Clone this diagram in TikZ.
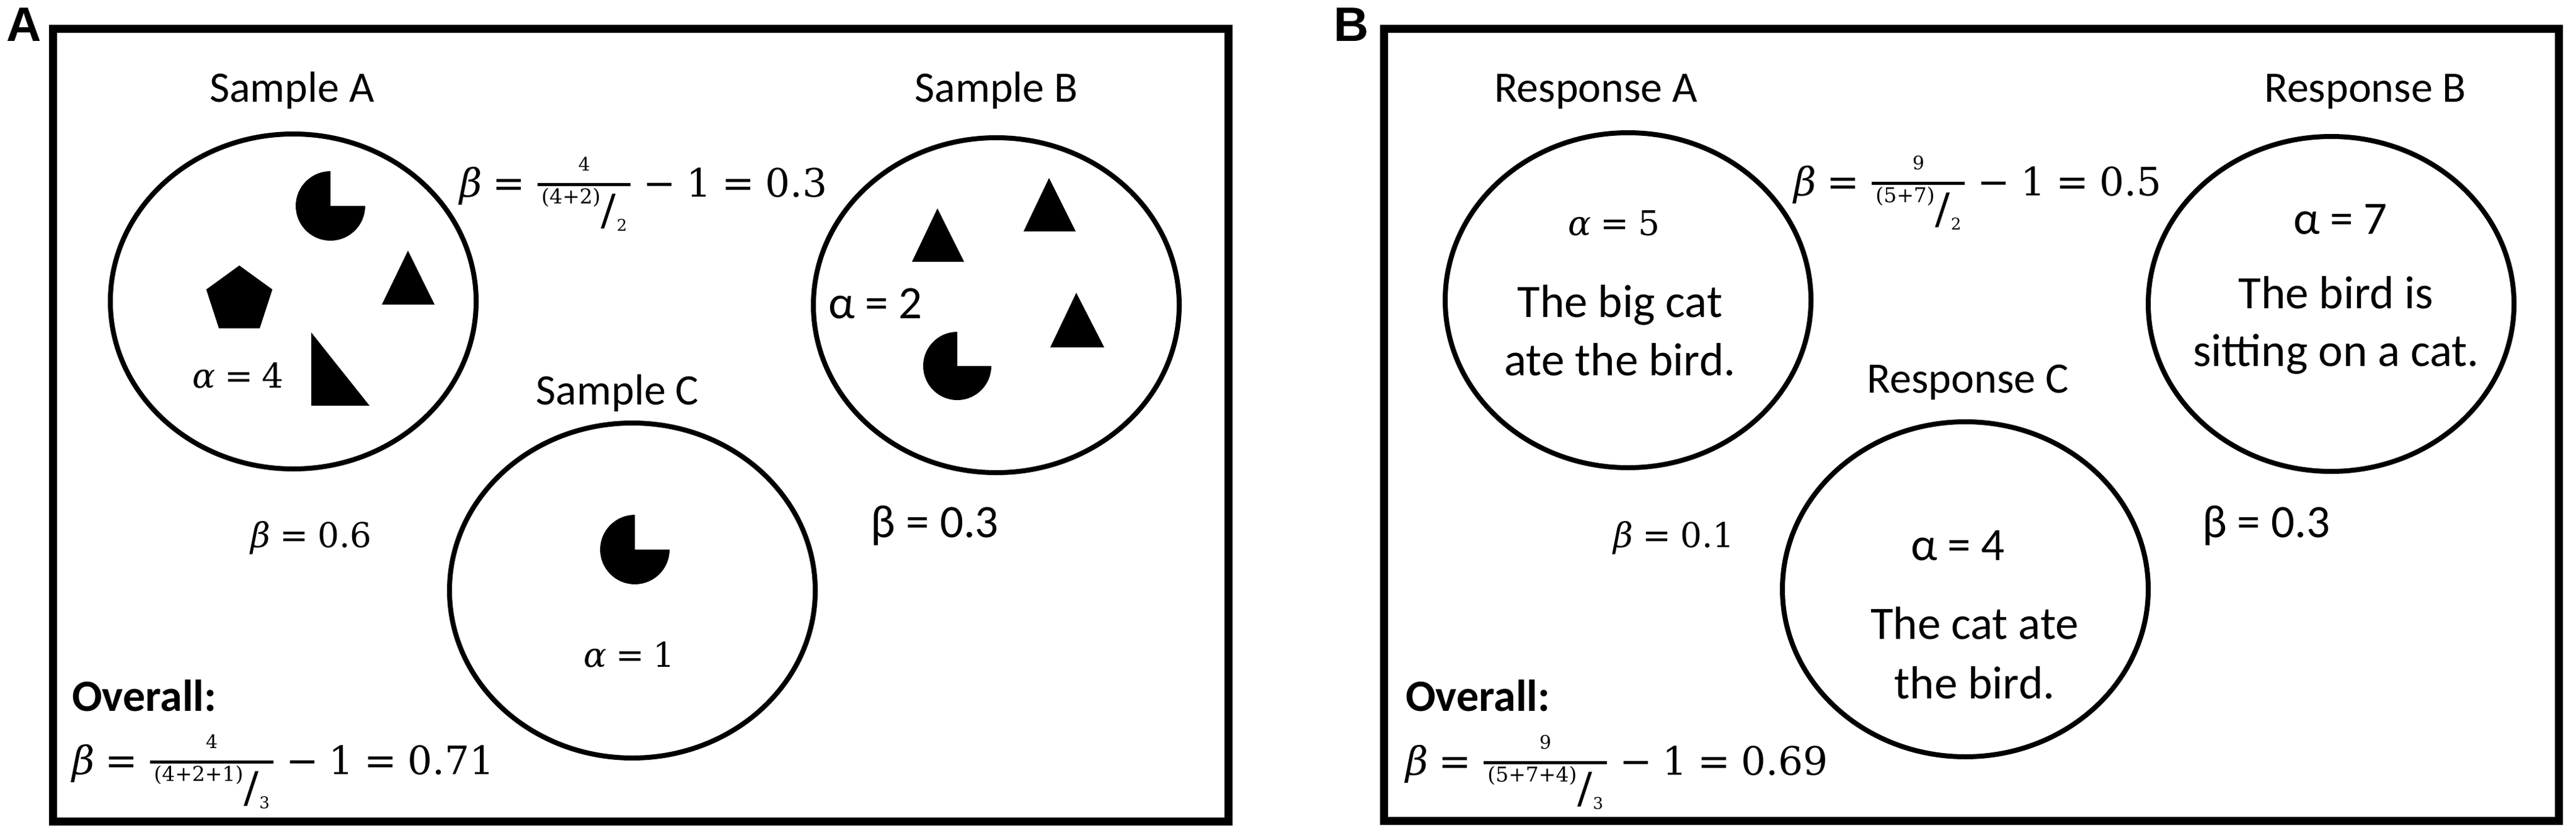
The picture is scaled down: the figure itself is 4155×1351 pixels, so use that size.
\documentclass[tikz,border=0pt]{standalone}
\usepackage{graphicx}
\usepackage{fontspec}
\setmainfont{Carlito}
\newfontfamily\labelfont{Liberation Sans}
\newfontfamily\mathfont{DejaVu Serif}
\usetikzlibrary{shapes.geometric}
\newcommand\Bt{{\itshape β}}
\newcommand\Al{{\itshape α}}
\newcommand\Eq{\kern0.27em=\kern0.27em}
\newcommand\Mn{\kern0.27em−\kern0.27em}
% skewed fraction: #1 numerator, #2 bracketed group, #3 divisor
\newcommand\skfrac[3]{%
  \setbox0=\hbox{\fontsize{30}{36}\selectfont #1}%
  \setbox2=\hbox{{\fontsize{33}{40}\selectfont #2}\kern1pt\raisebox{-34pt}{\resizebox*{24pt}{56pt}{/}}\kern1pt{\fontsize{26}{30}\selectfont\raisebox{-44pt}{#3}}}%
  \dimen0=\wd2 \advance\dimen0 by 12pt
  \kern3pt
  \rlap{\rule[17.5pt]{\dimen0}{5pt}}%
  \rlap{\raisebox{42pt}{\hbox to\dimen0{\hss\box0\hss}}}%
  \raisebox{-11pt}{\hbox to\dimen0{\hss\box2\hss}}%
  \kern3pt}
\tikzset{
  ttl/.style={inner sep=0pt, anchor=base, font=\fontsize{70}{84}\selectfont},
  txt/.style={inner sep=0pt, anchor=base, font=\fontsize{75}{90}\selectfont},
  mth/.style={inner sep=0pt, anchor=base, font=\mathfont\fontsize{55}{66}\selectfont},
  fml/.style={inner sep=0pt, anchor=base west, font=\mathfont\fontsize{63}{76}\selectfont},
  ovr/.style={inner sep=0pt, anchor=base west, font=\bfseries\fontsize{72}{86}\selectfont},
  lbl/.style={inner sep=0pt, anchor=base, font=\labelfont\bfseries\fontsize{78}{90}\selectfont},
  ring/.style={ellipse, draw, line width=8pt, minimum width=590pt, minimum height=540pt, inner sep=0pt},
  panelframe/.style={line width=13pt},
  blob/.style={fill=black}
}
\begin{document}
\begin{tikzpicture}[x=1pt,y=-1pt]
\useasboundingbox (0,0) rectangle (4155,1351);

% ---------------- Panel A ----------------
\draw[panelframe] (85,47) rectangle (1981,1324);
\node[lbl] (labA) at (39,67) {A};

\node[ring] (cA) at (473,486) {};
\node[ring] (cB) at (1607,492) {};
\node[ring] (cC) at (1020,952) {};

\node[ttl] (tSA) at (471,165) {Sample A};
\node[ttl] (tSB) at (1607,165) {Sample B};
\node[ttl] (tSC) at (996,652) {Sample C};

\node[mth] (aA) at (384,625) {\Al\Eq 4};
\node[txt] (aB) at (1412,513) {α = 2};
\node[mth] (aC) at (1015,1075) {\Al\Eq 1};

\node[mth] (bAC) at (502,882) {\Bt\Eq 0.6};
\node[txt] (bBC) at (1508,866) {β = 0.3};
\node[fml] (bAB) at (741,317) {\Bt\Eq\skfrac{4}{(4+2)}{2}\Mn 1\Eq 0.3};

\node[ovr] (ovA) at (116,1146) {Overall:};
\node[fml] (ovfA) at (116,1248) {\Bt\Eq\skfrac{4}{(4+2+1)}{3}\Mn 1\Eq 0.71};

% shapes in Sample A
\fill[blob] (533,332) -- ++(0,-56) arc[start angle=270, end angle=0, radius=56] -- cycle;
\fill[blob] (386,428) -- (332.7,466.7) -- (353.1,529.3) -- (418.9,529.3) -- (439.3,466.7) -- cycle;
\fill[blob] (616,491) -- (701,491) -- (658,404) -- cycle;
\fill[blob] (502,536) -- (502,654) -- (596,654) -- cycle;

% shapes in Sample B
\fill[blob] (1471,422) -- (1555,422) -- (1512,336) -- cycle;
\fill[blob] (1651,373) -- (1735,373) -- (1692,287) -- cycle;
\fill[blob] (1694,560) -- (1781,560) -- (1736,472) -- cycle;
\fill[blob] (1544,590) -- ++(0,-55) arc[start angle=270, end angle=0, radius=55] -- cycle;

% shape in Sample C
\fill[blob] (1024,886) -- ++(0,-56) arc[start angle=270, end angle=0, radius=56] -- cycle;

% ---------------- Panel B ----------------
\draw[panelframe] (2232,47) rectangle (4127,1323);
\node[lbl] (labB) at (2180,67) {B};

\node[ring] (rA) at (2626,484) {};
\node[ring] (rB) at (3760,490) {};
\node[ring] (rC) at (3170,950) {};

\node[ttl] (tRA) at (2574,165) {Response A};
\node[ttl] (tRB) at (3815,165) {Response B};
\node[ttl] (tRC) at (3174,633) {Response C};

\node[mth] (a5) at (2603,379) {\Al\Eq 5};
\node[txt] (sA1) at (2613,511) {The big cat};
\node[txt] (sA2) at (2613,605) {ate the bird.};

\node[txt] (a7) at (3775,377) {α = 7};
\node[txt] (sB1) at (3768,497) {The bird is};
\node[txt] (sB2) at (3768,590) {sitting on a cat.};

\node[txt] (a4) at (3158,903) {α = 4};
\node[txt] (sC1) at (3185,1030) {The cat ate};
\node[txt] (sC2) at (3185,1126) {the bird.};

\node[mth] (b01) at (2700,882) {\Bt\Eq 0.1};
\node[txt] (b03) at (3655,866) {β = 0.3};
\node[fml] (b05) at (2893,315) {\Bt\Eq\skfrac{9}{(5+7)}{2}\Mn 1\Eq 0.5};

\node[ovr] (ovB) at (2267,1146) {Overall:};
\node[fml] (ovfB) at (2267,1249) {\Bt\Eq\skfrac{9}{(5+7+4)}{3}\Mn 1\Eq 0.69};
\end{tikzpicture}
\end{document}
